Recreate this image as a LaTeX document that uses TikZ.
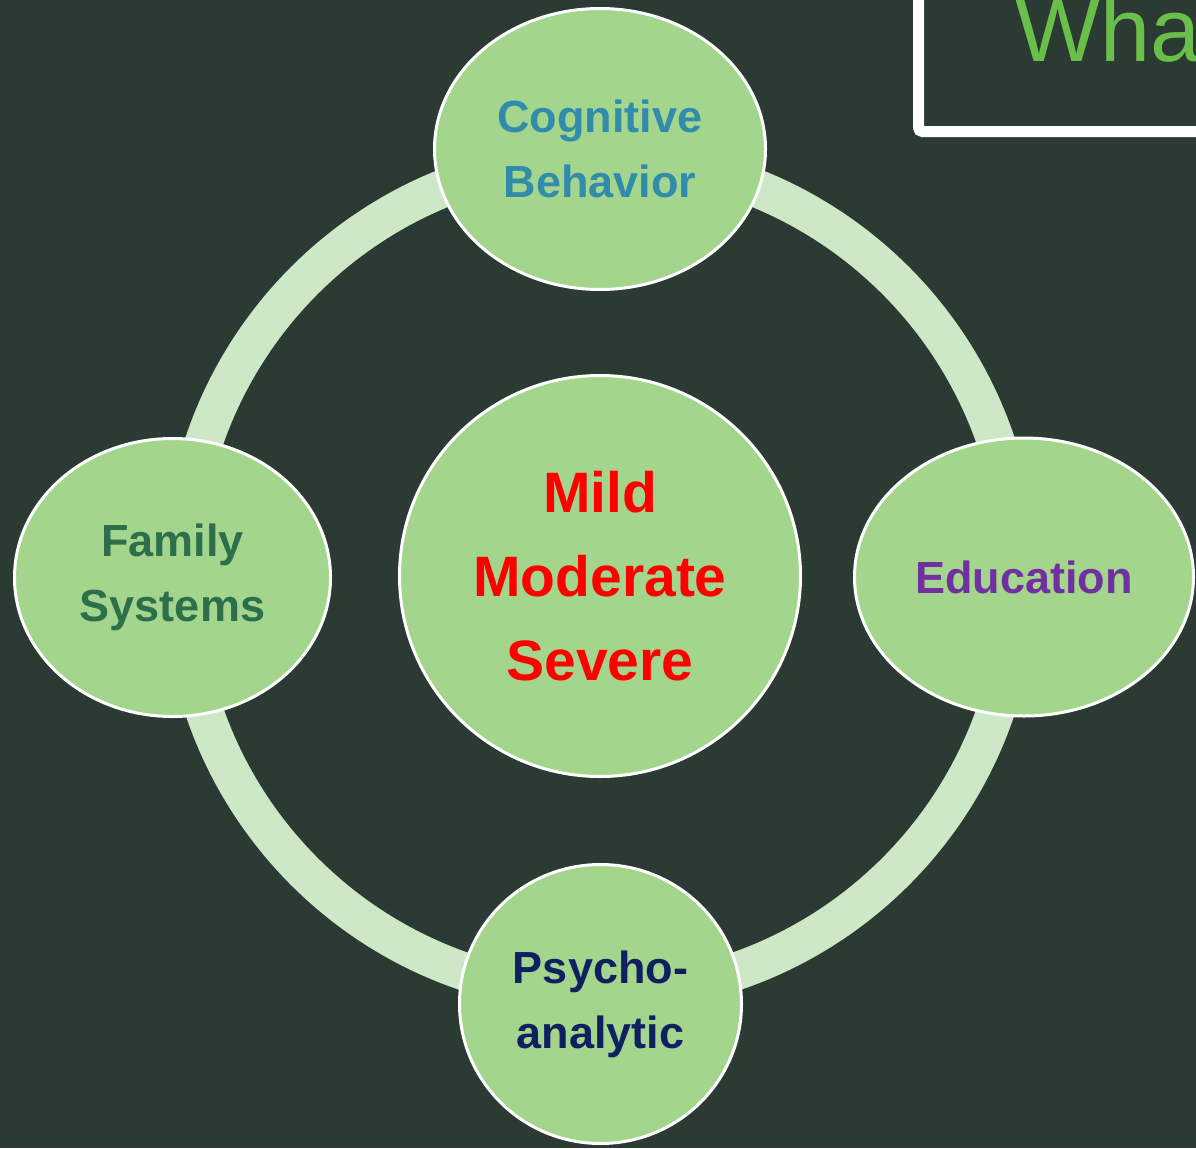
\documentclass[tikz,border=0pt]{standalone}
\usepackage{fontspec}
\setmainfont{Liberation Sans}
\usepackage{xcolor}
\usepackage{tikz}
\usetikzlibrary{shapes.geometric}

\definecolor{board}{HTML}{2B3A32}
\definecolor{leaf}{HTML}{A3D68C}
\definecolor{hoop}{HTML}{CDE8C6}
\definecolor{titlegreen}{HTML}{6ABF4B}
\definecolor{cogblue}{HTML}{318BAB}
\definecolor{famgreen}{HTML}{2D6E4B}
\definecolor{edupurple}{HTML}{7030A0}
\definecolor{psynavy}{HTML}{0F2060}

\tikzset{
  bubble/.style={ellipse, fill=leaf, draw=white, line width=3pt, inner sep=0pt,
    align=center, font=\bfseries\fontsize{45}{65}\selectfont},
}

\begin{document}
\begin{tikzpicture}[x=1pt,y=-1pt]
					\fill[board] (0,0) rectangle (1196,1148);
					\clip (0,0) rectangle (1196,1148);
					
					\coordinate (M) at (600,576);
					\coordinate (T) at (600,149);
					\coordinate (L) at (172.5,577.5);
					\coordinate (R) at (1024,577);
					\coordinate (B) at (600.5,1004);
					\coordinate (F) at (918.5,-20);
					
					\draw[white, line width=11pt, rounded corners=4pt] (F) |- (1240,131.5);
					\node (title) at (1015,62) [anchor=base west, inner sep=0pt, text=titlegreen, font=\fontsize{90}{90}\selectfont] {Wha};
					
					\draw[hoop, line width=38pt] (M) circle[radius=418pt];
					
					\node (cog) at (T) [bubble, minimum width=331pt, minimum height=281pt, text=cogblue] {Cognitive\\Behavior};
					\node (fam) at (L) [bubble, minimum width=316pt, minimum height=278pt, text=famgreen] {Family\\Systems};
					\node (edu) at (R) [bubble, minimum width=339pt, minimum height=278pt, text=edupurple] {Education};
					\node (psy) at (B) [bubble, minimum width=282pt, minimum height=279pt, text=psynavy] {Psycho-\\analytic};
					\node (mid) at (M) [bubble, minimum width=401pt, minimum height=401pt, text=red, font=\bfseries\fontsize{57}{84}\selectfont] {Mild\\Moderate\\Severe};
				\end{tikzpicture}
\end{document}
